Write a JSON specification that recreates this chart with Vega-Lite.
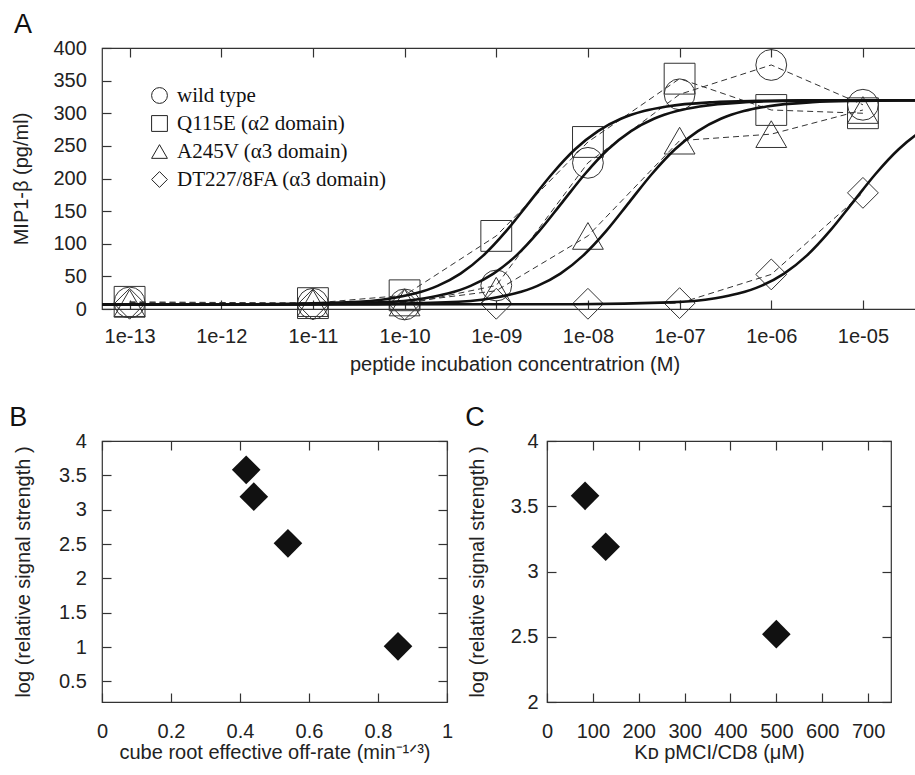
{
"$schema":"https://vega.github.io/schema/vega-lite/v6.json",
"padding":{"left":8,"top":10,"right":0,"bottom":0},
"background":"white",
"datasets":{
"obs":[
{"conc":1e-13,"mip":10,"series":"wild type"},{"conc":1e-11,"mip":8,"series":"wild type"},{"conc":1e-10,"mip":7,"series":"wild type"},{"conc":1e-9,"mip":36,"series":"wild type"},{"conc":1e-8,"mip":224,"series":"wild type"},{"conc":1e-7,"mip":329,"series":"wild type"},{"conc":1e-6,"mip":374,"series":"wild type"},{"conc":1e-5,"mip":313,"series":"wild type"},
{"conc":1e-13,"mip":11,"series":"Q115E (α2 domain)"},{"conc":1e-11,"mip":9,"series":"Q115E (α2 domain)"},{"conc":1e-10,"mip":21,"series":"Q115E (α2 domain)"},{"conc":1e-9,"mip":112,"series":"Q115E (α2 domain)"},{"conc":1e-8,"mip":256,"series":"Q115E (α2 domain)"},{"conc":1e-7,"mip":353,"series":"Q115E (α2 domain)"},{"conc":1e-6,"mip":305,"series":"Q115E (α2 domain)"},{"conc":1e-5,"mip":300,"series":"Q115E (α2 domain)"},
{"conc":1e-13,"mip":9,"series":"A245V (α3 domain)"},{"conc":1e-11,"mip":9,"series":"A245V (α3 domain)"},{"conc":1e-10,"mip":10,"series":"A245V (α3 domain)"},{"conc":1e-9,"mip":28,"series":"A245V (α3 domain)"},{"conc":1e-8,"mip":112,"series":"A245V (α3 domain)"},{"conc":1e-7,"mip":258,"series":"A245V (α3 domain)"},{"conc":1e-6,"mip":268,"series":"A245V (α3 domain)"},{"conc":1e-5,"mip":305,"series":"A245V (α3 domain)"},
{"conc":1e-13,"mip":8,"series":"DT227/8FA (α3 domain)"},{"conc":1e-11,"mip":7,"series":"DT227/8FA (α3 domain)"},{"conc":1e-10,"mip":7,"series":"DT227/8FA (α3 domain)"},{"conc":1e-9,"mip":8,"series":"DT227/8FA (α3 domain)"},{"conc":1e-8,"mip":8,"series":"DT227/8FA (α3 domain)"},{"conc":1e-7,"mip":9,"series":"DT227/8FA (α3 domain)"},{"conc":1e-6,"mip":53,"series":"DT227/8FA (α3 domain)"},{"conc":1e-5,"mip":178,"series":"DT227/8FA (α3 domain)"}
],
"fit":[
{"conc":5e-14,"mip":7.0,"series":"Q"},{"conc":2.291e-12,"mip":7.3,"series":"Q"},{"conc":2.291e-11,"mip":10.1,"series":"Q"},{"conc":7.244e-11,"mip":16.6,"series":"Q"},{"conc":1.288e-10,"mip":23.7,"series":"Q"},{"conc":2.291e-10,"mip":35.5,"series":"Q"},{"conc":4.074e-10,"mip":54.3,"series":"Q"},{"conc":7.244e-10,"mip":82.2,"series":"Q"},{"conc":1.288e-9,"mip":119.7,"series":"Q"},{"conc":2.291e-9,"mip":163.5,"series":"Q"},{"conc":4.074e-9,"mip":207.3,"series":"Q"},{"conc":7.244e-9,"mip":244.8,"series":"Q"},{"conc":1.288e-8,"mip":272.7,"series":"Q"},{"conc":2.291e-8,"mip":291.5,"series":"Q"},{"conc":4.074e-8,"mip":303.3,"series":"Q"},{"conc":7.244e-8,"mip":310.4,"series":"Q"},{"conc":2.291e-7,"mip":316.9,"series":"Q"},{"conc":7.244e-7,"mip":319.0,"series":"Q"},{"conc":2.291e-6,"mip":319.7,"series":"Q"},{"conc":5e-5,"mip":320,"series":"Q"},
{"conc":5e-14,"mip":7.0,"series":"W"},{"conc":5.248e-12,"mip":7.3,"series":"W"},{"conc":5.248e-11,"mip":10.1,"series":"W"},{"conc":1.660e-10,"mip":16.6,"series":"W"},{"conc":2.951e-10,"mip":23.7,"series":"W"},{"conc":5.248e-10,"mip":35.5,"series":"W"},{"conc":9.333e-10,"mip":54.3,"series":"W"},{"conc":1.660e-9,"mip":82.2,"series":"W"},{"conc":2.951e-9,"mip":119.7,"series":"W"},{"conc":5.248e-9,"mip":163.5,"series":"W"},{"conc":9.333e-9,"mip":207.3,"series":"W"},{"conc":1.660e-8,"mip":244.8,"series":"W"},{"conc":2.951e-8,"mip":272.7,"series":"W"},{"conc":5.248e-8,"mip":291.5,"series":"W"},{"conc":9.333e-8,"mip":303.3,"series":"W"},{"conc":1.660e-7,"mip":310.4,"series":"W"},{"conc":5.248e-7,"mip":316.9,"series":"W"},{"conc":1.660e-6,"mip":319.0,"series":"W"},{"conc":5.248e-6,"mip":319.7,"series":"W"},{"conc":5e-5,"mip":320,"series":"W"},
{"conc":5e-14,"mip":7.0,"series":"A"},{"conc":2.818e-11,"mip":7.3,"series":"A"},{"conc":2.818e-10,"mip":10.1,"series":"A"},{"conc":8.913e-10,"mip":16.6,"series":"A"},{"conc":1.585e-9,"mip":23.7,"series":"A"},{"conc":2.818e-9,"mip":35.5,"series":"A"},{"conc":5.012e-9,"mip":54.3,"series":"A"},{"conc":8.913e-9,"mip":82.2,"series":"A"},{"conc":1.585e-8,"mip":119.7,"series":"A"},{"conc":2.818e-8,"mip":163.5,"series":"A"},{"conc":5.012e-8,"mip":207.3,"series":"A"},{"conc":8.913e-8,"mip":244.8,"series":"A"},{"conc":1.585e-7,"mip":272.7,"series":"A"},{"conc":2.818e-7,"mip":291.5,"series":"A"},{"conc":5.012e-7,"mip":303.3,"series":"A"},{"conc":8.913e-7,"mip":310.4,"series":"A"},{"conc":2.818e-6,"mip":316.9,"series":"A"},{"conc":8.913e-6,"mip":319.0,"series":"A"},{"conc":2.818e-5,"mip":319.7,"series":"A"},{"conc":5e-5,"mip":319.8,"series":"A"},
{"conc":5e-14,"mip":7.0,"series":"D"},{"conc":7.762e-9,"mip":7.3,"series":"D"},{"conc":7.762e-8,"mip":10.1,"series":"D"},{"conc":2.455e-7,"mip":16.6,"series":"D"},{"conc":4.365e-7,"mip":23.7,"series":"D"},{"conc":7.762e-7,"mip":35.5,"series":"D"},{"conc":1.380e-6,"mip":54.3,"series":"D"},{"conc":2.455e-6,"mip":82.2,"series":"D"},{"conc":4.365e-6,"mip":119.7,"series":"D"},{"conc":7.762e-6,"mip":163.5,"series":"D"},{"conc":1.380e-5,"mip":207.3,"series":"D"},{"conc":2.455e-5,"mip":244.8,"series":"D"},{"conc":4.365e-5,"mip":272.7,"series":"D"},{"conc":5e-5,"mip":278.0,"series":"D"}
],
"offrate":[{"off":0.418,"sig":3.58},{"off":0.44,"sig":3.19},{"off":0.539,"sig":2.51},{"off":0.858,"sig":1.01}],
"kd":[{"kd":83,"sig":3.58},{"kd":128,"sig":3.19},{"kd":500,"sig":2.52}]
},
"config":{
"view":{"stroke":"#333","strokeWidth":1.2},
"axis":{"grid":false,"domain":false,"tickColor":"#333","tickSize":-9,"tickWidth":1.2,"labelFont":"Liberation Sans","labelFontSize":20,"labelColor":"#222","labelFlush":false,"labelOverlap":false,"titleFont":"Liberation Sans","titleFontSize":20,"titleFontWeight":"normal","titleColor":"#222"},
"title":{"font":"Liberation Sans","fontSize":27,"fontWeight":"normal","anchor":"start","color":"#111","frame":"group","baseline":"alphabetic","offset":-1}
},
"spacing":132,
"bounds":"flush",
"vconcat":[
{
"width":825,"height":261,
"title":{"text":"A","dx":-88},
"resolve":{"axis":{"x":"independent","y":"independent"}},
"layer":[
{"data":{"name":"obs"},"mark":{"type":"line","strokeDash":[6,4],"strokeWidth":1,"color":"#333","clip":true},
"encoding":{
"x":{"field":"conc","type":"quantitative","scale":{"type":"log","domain":[5e-14,5e-5],"nice":false},
"axis":{"orient":"bottom","values":[1e-13,1e-12,1e-11,1e-10,1e-9,1e-8,1e-7,1e-6,1e-5],"labelExpr":"length(format(datum.value, '.0e')) < 5 ? replace(format(datum.value, '.0e'), 'e-', 'e-0') : format(datum.value, '.0e')","title":"peptide incubation concentratrion (M)","labelPadding":26,"titlePadding":6,"minExtent":39,"maxExtent":39}},
"y":{"field":"mip","type":"quantitative","scale":{"domain":[0,400],"nice":false},
"axis":{"orient":"left","values":[0,50,100,150,200,250,300,350,400],"title":"MIP1-β (pg/ml)","labelPadding":24.7,"titlePadding":21,"minExtent":50,"maxExtent":50}},
"detail":{"field":"series"}}},
{"data":{"name":"obs"},"mark":{"type":"point","filled":false,"size":950,"strokeWidth":1,"color":"#333","opacity":1},
"encoding":{
"x":{"field":"conc","type":"quantitative","axis":null},
"y":{"field":"mip","type":"quantitative","axis":null},
"shape":{"field":"series","type":"nominal","scale":{"domain":["wild type","Q115E (α2 domain)","A245V (α3 domain)","DT227/8FA (α3 domain)"],"range":["circle","square","triangle-up","diamond"]},
"legend":{"orient":"none","legendX":47,"legendY":37,"title":null,"labelFont":"Liberation Serif","labelFontSize":21,"labelColor":"#111","labelLimit":500,"symbolSize":250,"symbolStrokeColor":"#222","symbolStrokeWidth":1,"rowPadding":6,"labelOffset":7,"padding":0}}}},
{"data":{"name":"fit"},"mark":{"type":"line","interpolate":"monotone","strokeWidth":2.6,"color":"#111","clip":true},
"encoding":{
"x":{"field":"conc","type":"quantitative","axis":null},
"y":{"field":"mip","type":"quantitative","axis":null},
"detail":{"field":"series"}}},
{"data":{"name":"obs"},"mark":{"type":"point","opacity":0},
"encoding":{
"x":{"field":"conc","type":"quantitative","axis":{"orient":"top","values":[1e-13,1e-12,1e-11,1e-10,1e-9,1e-8,1e-7,1e-6,1e-5],"labels":false,"title":null}},
"y":{"field":"mip","type":"quantitative","axis":{"orient":"right","values":[0,50,100,150,200,250,300,350,400],"labels":false,"title":null}}}}
]
},
{
"hconcat":[
{
"width":345,"height":261,
"title":{"text":"B","dx":-92.7},
"resolve":{"axis":{"x":"independent","y":"independent"}},
"layer":[
{"data":{"name":"offrate"},"mark":{"type":"point","shape":"diamond","filled":true,"size":820,"color":"#111","opacity":1},
"encoding":{
"x":{"field":"off","type":"quantitative","scale":{"domain":[0,1],"nice":false},
"axis":{"orient":"bottom","values":[0,0.2,0.4,0.6,0.8,1],"format":"~g","title":"cube root effective off-rate (min⁻¹ᐟ³)","labelPadding":28,"titlePadding":1,"minExtent":39,"maxExtent":39}},
"y":{"field":"sig","type":"quantitative","scale":{"domain":[0.2,4],"nice":false,"zero":false},
"axis":{"orient":"left","values":[0.5,1,1.5,2,2.5,3,3.5,4],"format":"~g","title":"log (relative signal strength )","labelPadding":24.7,"titlePadding":19,"minExtent":50,"maxExtent":50}}}},
{"data":{"name":"offrate"},"mark":{"type":"point","opacity":0},
"encoding":{
"x":{"field":"off","type":"quantitative","axis":{"orient":"top","values":[0,0.2,0.4,0.6,0.8,1],"labels":false,"title":null}},
"y":{"field":"sig","type":"quantitative","axis":{"orient":"right","values":[0.5,1,1.5,2,2.5,3,3.5,4],"labels":false,"title":null}}}}
]
},
{
"width":344,"height":261,
"title":{"text":"C","dx":-81.7},
"resolve":{"axis":{"x":"independent","y":"independent"}},
"layer":[
{"data":{"name":"kd"},"mark":{"type":"point","shape":"diamond","filled":true,"size":820,"color":"#111","opacity":1},
"encoding":{
"x":{"field":"kd","type":"quantitative","scale":{"domain":[0,750],"nice":false},
"axis":{"orient":"bottom","values":[0,100,200,300,400,500,600,700],"format":"d","title":"Kᴅ pMCI/CD8 (μM)","labelPadding":28,"titlePadding":1,"minExtent":39,"maxExtent":39}},
"y":{"field":"sig","type":"quantitative","scale":{"domain":[2,4],"nice":false,"zero":false},
"axis":{"orient":"left","values":[2,2.5,3,3.5,4],"format":"~g","title":"log (relative signal strength )","labelPadding":18,"titlePadding":20,"minExtent":40,"maxExtent":40}}}},
{"data":{"name":"kd"},"mark":{"type":"point","opacity":0},
"encoding":{
"x":{"field":"kd","type":"quantitative","axis":{"orient":"top","values":[0,100,200,300,400,500,600,700],"labels":false,"title":null}},
"y":{"field":"sig","type":"quantitative","axis":{"orient":"right","values":[2,2.5,3,3.5,4],"labels":false,"title":null}}}}
]
}
],
"spacing":100,
"bounds":"flush"
}
]
}
